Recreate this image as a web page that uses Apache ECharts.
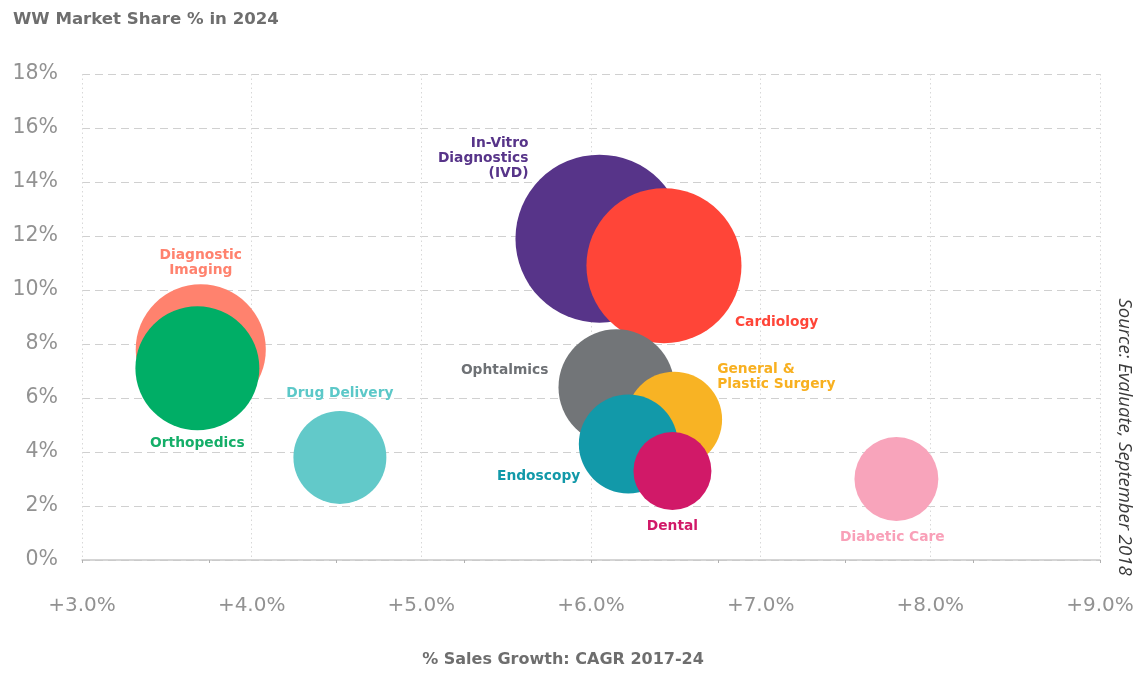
<!DOCTYPE html>
<html>
<head>
<meta charset="utf-8">
<script src="https://cdn.jsdelivr.net/npm/echarts@6/dist/echarts.min.js"></script>
<style>
html,body{margin:0;padding:0;background:#fff;}
#chart{width:1140px;height:673px;}
</style>
</head>
<body>
<div id="chart"></div>
<script>
// ---- data ----
var segments = ['Diagnostic\nImaging','Orthopedics','Drug Delivery','In-Vitro\nDiagnostics\n(IVD)','Cardiology','Ophtalmics','General &\nPlastic Surgery','Endoscopy','Dental','Diabetic Care'];
var salesGrowth = [3.70, 3.68, 4.52, 6.05, 6.43, 6.15, 6.49, 6.22, 6.48, 7.80];   // % CAGR 2017-24
var marketShare = [7.8, 7.1, 3.8, 11.9, 10.9, 6.4, 5.2, 4.3, 3.3, 3.0];         // % WW share 2024
var bubbleSize  = [42.3, 38.4, 21.6, 70.6, 60.1, 33.6, 23.0, 24.5, 15.2, 17.6];  // relative sales volume
var xTicks = ['+3.0%','+4.0%','+5.0%','+6.0%','+7.0%','+8.0%','+9.0%'];
var yTicks = ['0%','2%','4%','6%','8%','10%','12%','14%','16%','18%'];

// ---- styles ----
var colors = ['#FF826E','#00AE66','#62C9C9','#573489','#FF4538','#727578','#F8B324','#1299A9','#D11968','#F8A4BB'];
var labelColors = ['#FF826E','#14AE68','#5CC8C8','#573489','#FF4538','#6E7175','#F8B020','#1299A9','#D11968','#F9A0B8'];
var labelLayout = [
  {off:[0,-86], align:'center'},
  {off:[0,75], align:'center'},
  {off:[0,-64], align:'center'},
  {off:[-71,-80], align:'right'},
  {off:[71,57], align:'left'},
  {off:[-68,-17], align:'right'},
  {off:[43,-43], align:'left'},
  {off:[-48,33], align:'right'},
  {off:[0,56], align:'center'},
  {off:[-4,58], align:'center'}
];
var boldFont = '"DejaVu Sans", "Noto Sans", sans-serif';
var tickFont = '"DejaVu Sans", "Noto Sans", sans-serif';

var seriesData = segments.map(function(name, i){
  return {
    name: name,
    value: [salesGrowth[i], marketShare[i], bubbleSize[i]],
    itemStyle: {color: colors[i], opacity: 1},
    label: {
      show: true,
      position: 'inside',
      offset: labelLayout[i].off,
      align: labelLayout[i].align,
      verticalAlign: 'middle',
      formatter: name,
      color: labelColors[i],
      fontFamily: boldFont,
      fontWeight: 'bold',
      fontSize: 13.8,
      lineHeight: 15,
      textBorderWidth: 0,
      textShadowBlur: 0
    }
  };
});

var chart = echarts.init(document.getElementById('chart'), null, {renderer:'canvas'});
chart.setOption({
  animation: false,
  backgroundColor: '#fff',
  title: {
    text: 'WW Market Share % in 2024',
    left: 8, top: 6,
    textStyle: {color:'#6e6e6e', fontSize: 16.6, fontWeight:'bold', fontFamily: boldFont}
  },
  grid: {left: 82, right: 40, top: 74, bottom: 113, containLabel: false},
  xAxis: [{
    type: 'value', min: 3, max: 9, interval: 1,
    name: '% Sales Growth: CAGR 2017-24',
    nameLocation: 'middle', nameGap: 92,
    nameTextStyle: {color:'#6e6e6e', fontSize: 16, fontWeight:'bold', fontFamily: boldFont, padding: [0, 56, 0, 0]},
    axisLine: {show: true, lineStyle: {color:'#c8c8c8', width: 1.5}},
    axisTick: {show: false},
    axisLabel: {
      margin: 36, fontSize: 20, color:'#929292', fontFamily: tickFont,
      formatter: function(v){ return xTicks[Math.round(v - 3)]; }
    },
    splitLine: {show: true, lineStyle: {color:'#d8d8d8', type:[1.5,3], width: 1}}
  },{
    type: 'value', min: 3, max: 9, interval: 0.75, gridIndex: 0, position: 'bottom',
    axisLine: {show: false},
    axisTick: {show: true, length: 3, lineStyle: {color:'#b0b0b0'}},
    axisLabel: {show: false},
    splitLine: {show: false}
  }],
  yAxis: {
    type: 'value', min: 0, max: 18, interval: 2,
    axisLine: {show: false},
    axisTick: {show: false},
    axisLabel: {
      margin: 24, fontSize: 20.5, color:'#929292', fontFamily: tickFont,
      formatter: function(v){ return yTicks[Math.round(v/2)]; }
    },
    splitLine: {show: true, lineStyle: {color:'#d0d0d0', type:[8,5], width: 1.2}}
  },
  graphic: [{
    type: 'text',
    x: 1124, y: 437,
    rotation: -Math.PI/2,
    style: {
      text: 'Source: Evaluate, September 2018',
      fill: '#3a3a3a',
      font: 'italic 18.5px "Open Sans", "Noto Sans", sans-serif',
      textAlign: 'center',
      textVerticalAlign: 'middle'
    }
  }],
  series: [{
    type: 'scatter',
    xAxisIndex: 0,
    data: seriesData,
    symbol: 'circle',
    symbolSize: function(v){ return Math.sqrt(v[2]) * 20; },
    emphasis: {disabled: true}
  }]
});
</script>
</body>
</html>
